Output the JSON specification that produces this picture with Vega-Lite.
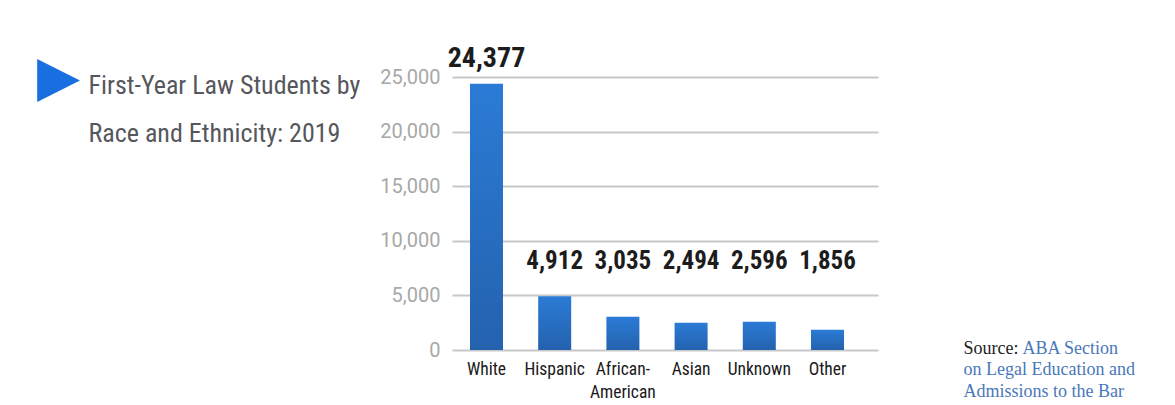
{
  "$schema": "https://vega.github.io/schema/vega-lite/v6.json",
  "width": 426,
  "height": 273,
  "autosize": {"type": "none"},
  "padding": {"left": 452, "top": 77, "right": 297, "bottom": 55},
  "background": "#ffffff",
  "config": {"view": {"stroke": null}},
  "title": {
    "text": "▶",
    "color": "#1a6fe0",
    "font": "DejaVu Sans",
    "fontSize": 56,
    "anchor": "start",
    "frame": "group",
    "baseline": "middle",
    "offset": 0,
    "dx": -415,
    "dy": 89
  },
  "data": {
    "values": [
      {"race": "White", "students": 24377},
      {"race": "Hispanic", "students": 4912},
      {"race": "African-American", "students": 3035},
      {"race": "Asian", "students": 2494},
      {"race": "Unknown", "students": 2596},
      {"race": "Other", "students": 1856}
    ]
  },
  "layer": [
    {
      "mark": {
        "type": "bar",
        "color": {
          "gradient": "linear",
          "x1": 0, "y1": 0, "x2": 0, "y2": 1,
          "stops": [
            {"offset": 0, "color": "#2b7bd6"},
            {"offset": 1, "color": "#2462ae"}
          ]
        }
      },
      "encoding": {
        "x": {
          "field": "race",
          "type": "nominal",
          "sort": null,
          "scale": {"paddingInner": 0.516, "paddingOuter": 0.381, "align": 0.346},
          "axis": {
            "domain": false,
            "ticks": false,
            "labelAngle": 0,
            "labelFont": "Roboto Condensed, Liberation Sans, sans-serif",
            "labelFontSize": 17.5,
            "labelColor": "#1a1a1a",
            "labelPadding": 10,
            "labelBaseline": "top",
            "labelLineHeight": 23,
            "labelExpr": "datum.label == 'African-American' ? ['African-', 'American'] : datum.label",
            "title": ["on Legal Education and", "Admissions to the Bar"],
            "titleFont": "Liberation Serif",
            "titleFontSize": 18,
            "titleFontWeight": "normal",
            "titleColor": "#4a78ba",
            "titleAlign": "left",
            "titleBaseline": "top",
            "titleAnchor": null,
            "titleLineHeight": 22,
            "titleX": 511,
            "titleY": 10
          }
        },
        "y": {
          "field": "students",
          "type": "quantitative",
          "scale": {"domain": [0, 25000], "nice": false},
          "axis": {
            "values": [0, 5000, 10000, 15000, 20000, 25000],
            "labelExpr": "format(datum.value, ',')",
            "domain": false,
            "ticks": false,
            "grid": true,
            "gridColor": "#c8c8c8",
            "gridWidth": 2,
            "labelFont": "Roboto",
            "labelFontSize": 20,
            "labelColor": "#a8a8a8",
            "labelPadding": 12,
            "title": ["First-Year Law Students by", "Race and Ethnicity: 2019"],
            "titleFont": "Roboto Condensed, serif",
            "titleFontSize": 26,
            "titleFontWeight": "normal",
            "titleColor": "#55575c",
            "titleAngle": 0,
            "titleAlign": "left",
            "titleBaseline": "top",
            "titleAnchor": null,
            "titleLineHeight": 48,
            "titleX": -364,
            "titleY": -5
          }
        }
      }
    },
    {
      "transform": [{"filter": "datum.race == 'White'"}],
      "mark": {
        "type": "text",
        "baseline": "bottom",
        "dy": -11,
        "font": "Roboto Condensed, sans-serif",
        "fontWeight": "bold",
        "fontSize": 28,
        "color": "#1c1c1c"
      },
      "encoding": {
        "x": {
          "field": "race",
          "type": "nominal",
          "sort": null,
          "axis": {
            "orient": "top",
            "domain": false,
            "ticks": false,
            "labels": false,
            "grid": false,
            "title": "ABA Section",
            "titleFont": "Liberation Serif",
            "titleFontSize": 18,
            "titleFontWeight": "normal",
            "titleColor": "#4a78ba",
            "titleAlign": "left",
            "titleBaseline": "top",
            "titleAnchor": null,
            "titleX": 570,
            "titleY": 262
          }
        },
        "y": {"field": "students", "type": "quantitative", "axis": null},
        "text": {"field": "students", "type": "quantitative", "format": ","}
      }
    },
    {
      "transform": [{"filter": "datum.race != 'White'"}],
      "mark": {
        "type": "text",
        "baseline": "bottom",
        "font": "Roboto Condensed, sans-serif",
        "fontWeight": "bold",
        "fontSize": 25,
        "color": "#1c1c1c"
      },
      "encoding": {
        "x": {"field": "race", "type": "nominal", "sort": null, "axis": null},
        "y": {
          "datum": 6950,
          "type": "quantitative",
          "axis": {
            "orient": "right",
            "domain": false,
            "ticks": false,
            "labels": false,
            "grid": false,
            "title": "Source:",
            "titleFont": "Liberation Serif",
            "titleFontSize": 18,
            "titleFontWeight": "normal",
            "titleColor": "#222222",
            "titleAngle": 0,
            "titleAlign": "left",
            "titleBaseline": "top",
            "titleAnchor": null,
            "titleX": 85,
            "titleY": 262
          }
        },
        "text": {"field": "students", "type": "quantitative", "format": ","}
      }
    }
  ],
  "resolve": {"axis": {"x": "independent", "y": "independent"}}
}
